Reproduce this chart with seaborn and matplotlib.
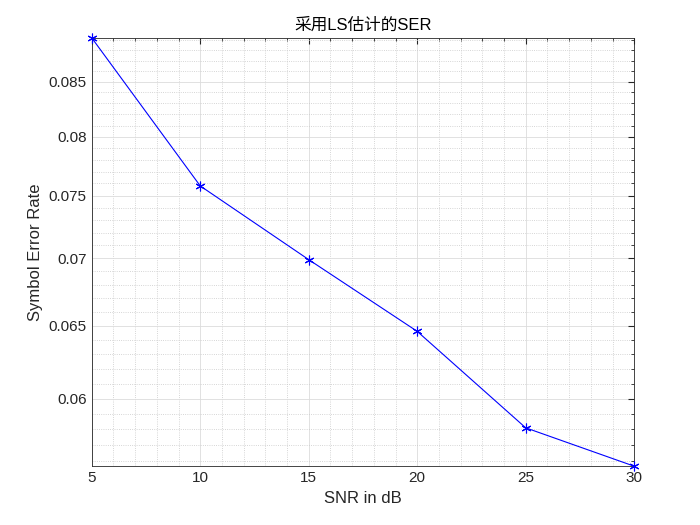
import matplotlib
matplotlib.use("Agg")
import numpy as np
import pandas as pd
import seaborn as sns
from matplotlib import pyplot as plt
from matplotlib import ticker

snr_db = [5, 10, 15, 20, 25, 30]
ser = [0.0892, 0.0758, 0.0699, 0.0646, 0.0581, 0.0557]
y_ticks = [0.06, 0.065, 0.07, 0.075, 0.08, 0.085]

sns.set_style("white")
plt.rcParams['font.family'] = ['Liberation Sans', 'Noto Sans CJK SC', 'DejaVu Sans']

points = pd.DataFrame({"SNR": snr_db, "SER": ser})

fig = plt.figure(figsize=(7, 5.25), dpi=100)
ax = fig.add_axes([0.131, 0.112, 0.775, 0.816])

sns.lineplot(x="SNR", y="SER", data=points, ax=ax, color="#0000ff",
             linewidth=0.8, marker=(6, 2, 0), markersize=7,
             markeredgecolor="#0000ff", markeredgewidth=0.8, clip_on=False,
             zorder=5)

ax.set_yscale("log")
ax.set_xlim(5, 30)
ax.set_ylim(0.0557, 0.0892)
ax.set_xticks([5, 10, 15, 20, 25, 30])
ax.yaxis.set_major_locator(ticker.FixedLocator(y_ticks))
ax.yaxis.set_major_formatter(ticker.FuncFormatter(lambda v, p: f"{v:g}"))
ax.yaxis.set_minor_locator(ticker.MultipleLocator(0.001))
ax.yaxis.set_minor_formatter(ticker.NullFormatter())
ax.xaxis.set_minor_locator(ticker.MultipleLocator(1))

ax.grid(True, which="major", color="#dcdcdc", linewidth=0.6)
ax.grid(True, which="minor", color="#c8c8c8", linestyle=":", linewidth=0.6)
ax.tick_params(which="both", direction="in", top=True, right=True,
               labelsize=11, colors="#262626", length=4)
ax.tick_params(which="minor", length=2)
for s in ax.spines.values():
    s.set_color("#262626")
    s.set_linewidth(0.6)

ax.set_xlabel("SNR in dB", fontsize=12, color="#262626")
ax.set_ylabel("Symbol Error Rate", fontsize=12, color="#262626")
ax.set_title("采用LS估计的SER", fontsize=12, color="#000000")

fig.savefig("out.png", dpi=100)
